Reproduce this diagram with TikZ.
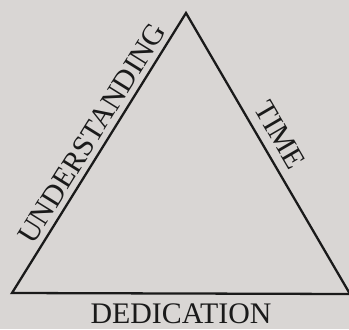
\documentclass[tikz,border=0pt]{standalone}
\usepackage{fontspec}
\setmainfont{Liberation Serif}
\usetikzlibrary{positioning}
\definecolor{PaperGray}{HTML}{D9D6D4}
\definecolor{InkBlack}{HTML}{1A1A1A}

\begin{document}
\begin{tikzpicture}[x=0.02cm, y=-0.02cm,
    side/.style={InkBlack, line width=1.3pt, line join=miter},
    lbl/.style={InkBlack, font=\fontsize{17}{20}\selectfont, inner sep=0pt}]
    % page
    \fill[PaperGray] (0,0) rectangle (349,329);
    \useasboundingbox (0,0) rectangle (349,329);

    \coordinate (left) at (12,293);
    \coordinate (apex) at (186,13);
    \coordinate (right) at (350,294);

    \draw[side] (left) -- (apex) node[lbl, pos=0.54, sloped, above=3pt] (und) {UNDERSTANDING}
        -- (right) node[lbl, pos=0.47, sloped, above=5pt] (time) {TIME}
        -- (left) node[lbl, midway, below=5pt] (ded) {DEDICATION} -- cycle;
\end{tikzpicture}
\end{document}
